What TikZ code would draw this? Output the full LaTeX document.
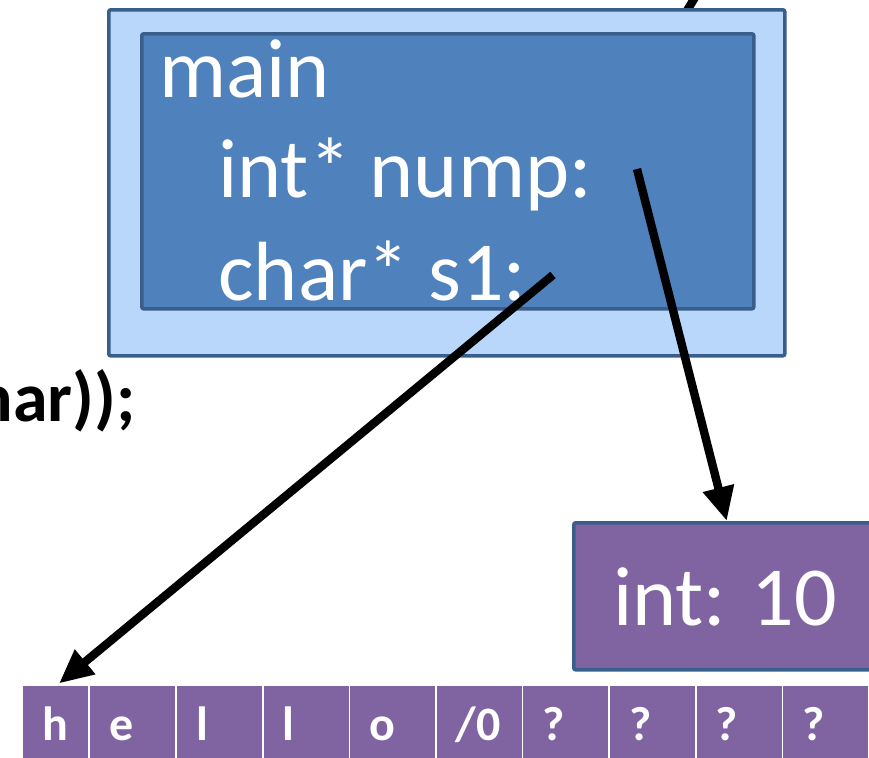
\documentclass[tikz,border=0pt]{standalone}
\usepackage{fontspec}
\setmainfont{Carlito}
\usetikzlibrary{arrows.meta,calc}
\definecolor{outerfill}{RGB}{185,215,250}
\definecolor{boxline}{RGB}{58,94,140}
\definecolor{innerfill}{RGB}{79,129,189}
\definecolor{cellfill}{RGB}{128,100,162}
\begin{document}
\begin{tikzpicture}[x=0.5pt,y=-0.5pt,
  panel/.style={draw=boxline, line width=1.8pt, rounded corners=1pt, inner sep=0pt, anchor=north west},
  bigtext/.style={text=white, inner sep=0pt, anchor=base west, font=\fontsize{42}{50}\selectfont},
  cellbox/.style={fill=cellfill, inner sep=0pt, anchor=north west, minimum height=37pt},
  celltext/.style={text=white, inner sep=0pt, anchor=base west, font=\fontsize{24}{28}\selectfont\bfseries},
  ptr/.style={line width=4.2pt, -{Triangle[length=17pt,width=15pt]}}]
\useasboundingbox (0,0) rectangle (869,757);
% fragment of an arrow entering from above
\coordinate (topA) at (702,-14);
\coordinate (topB) at (680,22);
\draw[line width=4.2pt] (topA) -- (topB);
% stack frame
\node[panel, fill=outerfill, minimum width=338pt, minimum height=173pt] (frame) at (107,8) {};
\node[panel, fill=innerfill, minimum width=306pt, minimum height=137.5pt] (inner) at (140,32) {};
\node[bigtext] (lmain) at (159,97) {main};
\node[bigtext] (lnump) at (218,197) {int* nump:};
\node[bigtext] (ls1) at (218,300) {char* s1:};
% code fragment
\node[inner sep=0pt, anchor=base east, font=\fontsize{35}{40}\selectfont\bfseries] (code) at (136,421) {char));};
% heap int
\node[draw=boxline, line width=1.8pt, fill=cellfill, rounded corners=1pt, inner sep=0pt, anchor=north west,
  minimum width=153pt, minimum height=73.5pt] (intbox) at (572,521) {};
\node[text=white, inner sep=0pt, anchor=base, font=\fontsize{42}{50}\selectfont] (intlabel) at (725,625) {int: 10};
% char array
\node[cellbox, minimum width=32.5pt] (c0) at (23,686) {};
\node[celltext] (t0) at (42,740) {h};
\foreach \i/\x/\t in {1/90/e, 2/176.6/l, 3/263.2/l, 4/349.8/o, 5/436.4/{/0}, 6/523/?, 7/609.6/?, 8/696.2/?, 9/782.8/?} {
  \node[cellbox, minimum width=42.5pt] (c\i) at (\x,686) {};
  \node[celltext] (t\i) at ($(\x,740)+(19,0)$) {\t};
}
% pointers
\coordinate (nptr) at (637,169);
\coordinate (sptr) at (553,275);
\draw[ptr] (nptr) -- (intbox.north);
\draw[ptr, shorten >=2pt] (sptr) -- (c0.north);
\end{tikzpicture}
\end{document}
